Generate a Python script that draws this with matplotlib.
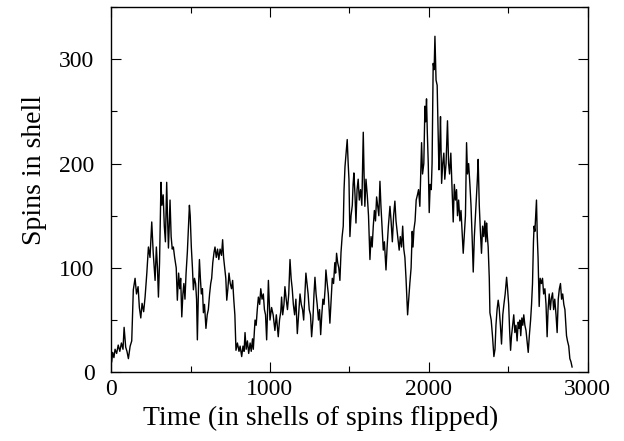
import matplotlib
matplotlib.use("Agg")
import matplotlib.pyplot as plt
from matplotlib.ticker import MultipleLocator

# values (time, spins in shell)
time_a = [4, 10, 18, 25, 35, 45, 55, 65, 75, 82, 92, 100, 109, 120, 130, 140, 151, 160, 170, 178,
          187, 195, 205, 214, 225, 235, 245, 256, 265, 277, 285, 292, 298, 305, 314, 320, 328, 335, 342, 350,
          355, 361, 366, 371, 378, 385, 392, 400, 410, 417, 425, 432, 438, 445, 452, 458, 465, 472, 480, 487,
          493, 498, 505, 512, 518, 525, 532, 538, 543, 550, 556, 562, 568, 575, 581, 588, 597, 605, 612, 620,
          627, 633, 640, 648, 654, 662, 670, 678, 686, 695, 702, 708, 715, 722, 728, 735, 742, 750, 758, 765,
          772, 779, 786, 795, 805, 812, 822, 830, 837, 843, 850, 858, 866, 875, 882, 890, 895, 900, 906, 913,
          920, 927, 935, 942, 950, 958, 965, 972, 979, 985, 990]
spins_a = [10, 19, 14, 22, 18, 26, 20, 28, 22, 43, 24, 20, 13, 25, 30, 79, 90, 75, 82, 62,
           52, 66, 58, 72, 95, 120, 110, 144, 115, 88, 120, 100, 72, 105, 182, 160, 170, 140, 125, 182,
           150, 119, 140, 165, 130, 118, 120, 110, 100, 69, 95, 80, 90, 53, 75, 85, 70, 95, 115, 140,
           160, 150, 120, 100, 79, 90, 85, 70, 31, 80, 108, 90, 75, 80, 57, 65, 42, 55, 60, 75,
           85, 90, 105, 115, 120, 110, 118, 108, 118, 112, 127, 110, 100, 90, 69, 80, 95, 85, 80, 88,
           70, 55, 21, 28, 20, 25, 15, 25, 20, 38, 22, 30, 18, 28, 20, 32, 22, 35, 50, 45,
           60, 72, 65, 80, 70, 75, 60, 55, 31, 60, 88]

time_b = [1000, 1010, 1020, 1031, 1040, 1052, 1060, 1068, 1073, 1080, 1088, 1094, 1102, 1110, 1118, 1126,
          1133, 1140, 1147, 1155, 1163, 1172, 1180, 1189, 1197, 1205, 1212, 1218, 1226, 1233, 1240, 1247,
          1255, 1262, 1270, 1277, 1283, 1290, 1297, 1305, 1312, 1319, 1326, 1333, 1340, 1347, 1352, 1360,
          1367, 1377, 1385, 1392, 1400, 1408, 1413, 1419, 1426, 1433, 1440, 1447, 1454, 1461, 1466, 1472,
          1479, 1486, 1492, 1497, 1503, 1510, 1518, 1523, 1528, 1535, 1541, 1548, 1555, 1562, 1570, 1578,
          1587, 1592, 1597, 1604, 1612, 1620, 1629, 1636, 1643, 1650, 1657, 1664, 1671, 1677, 1685, 1692,
          1698, 1705, 1713, 1720, 1730, 1737, 1745, 1755, 1762, 1770, 1778, 1786, 1793, 1800, 1807, 1813,
          1820, 1828, 1835, 1842, 1849, 1856, 1866, 1873, 1880, 1888, 1895, 1900, 1906, 1913, 1920, 1928,
          1935, 1943, 1950, 1954, 1960, 1968, 1975, 1980, 1985]
spins_b = [50, 62, 55, 40, 55, 34, 50, 58, 72, 55, 65, 82, 70, 60, 75, 108,
           90, 80, 65, 55, 70, 37, 55, 75, 65, 60, 50, 70, 95, 85, 75, 60,
           55, 34, 50, 75, 91, 75, 65, 50, 60, 36, 55, 70, 65, 80, 98, 85,
           75, 47, 70, 90, 85, 105, 95, 114, 105, 100, 88, 115, 130, 140, 175, 197,
           210, 223, 200, 185, 130, 150, 160, 180, 191, 170, 143, 175, 185, 165, 175, 160,
           230, 190, 159, 185, 170, 150, 108, 130, 120, 140, 155, 145, 168, 160, 150, 183,
           160, 140, 117, 125, 98, 120, 140, 159, 145, 125, 150, 164, 145, 135, 125, 117,
           130, 120, 140, 118, 110, 90, 55, 70, 85, 100, 135, 120, 137, 145, 165, 170,
           175, 159, 200, 220, 190, 200, 255, 240, 262]

time_c = [1990, 1996, 2002, 2008, 2015, 2020, 2027, 2033, 2038, 2045, 2052, 2058, 2063, 2068, 2073, 2080,
          2087, 2094, 2100, 2108, 2117, 2124, 2130, 2138, 2145, 2153, 2160, 2167, 2174, 2180, 2187, 2195,
          2202, 2209, 2216, 2222, 2230, 2237, 2243, 2250, 2258, 2265, 2272, 2279, 2286, 2293, 2300, 2305,
          2310, 2317, 2324, 2331, 2338, 2345, 2352, 2358, 2363, 2368, 2373, 2380, 2384, 2392, 2400, 2409,
          2416, 2422, 2429, 2436, 2442, 2450, 2457, 2465, 2472, 2480, 2489, 2495, 2502, 2508, 2514, 2520,
          2527, 2534, 2541, 2548, 2555, 2562, 2568, 2572, 2578, 2585, 2591, 2597, 2604, 2611, 2618, 2625,
          2632, 2640, 2646, 2652, 2658, 2662, 2667, 2672, 2677, 2682, 2687, 2694, 2700, 2708, 2715, 2722,
          2730, 2737, 2744, 2750, 2757, 2764, 2770, 2778, 2785, 2792, 2800, 2807, 2814, 2821, 2828, 2835,
          2842, 2849, 2856, 2862, 2866, 2872, 2880, 2887, 2894, 2901]
spins_c = [230, 200, 153, 180, 175, 200, 296, 290, 322, 280, 275, 230, 194, 215, 245, 181,
           200, 210, 185, 200, 241, 200, 190, 210, 180, 144, 180, 165, 175, 150, 165, 145,
           155, 135, 114, 130, 150, 220, 190, 200, 180, 160, 130, 96, 130, 150, 170, 185,
           204, 160, 135, 114, 140, 130, 145, 125, 143, 130, 120, 90, 57, 50, 35, 15,
           22, 45, 60, 69, 62, 45, 27, 55, 65, 75, 91, 80, 65, 40, 21, 35,
           45, 55, 38, 45, 30, 48, 42, 50, 35, 52, 45, 55, 45, 40, 30, 19,
           35, 50, 65, 85, 125, 140, 135, 150, 165, 130, 110, 63, 90, 85, 90, 75,
           80, 65, 34, 60, 75, 60, 70, 76, 60, 70, 55, 38, 70, 80, 85, 70,
           75, 65, 60, 45, 35, 30, 25, 13, 10, 5]

time_vals = time_a + time_b + time_c
spins_vals = spins_a + spins_b + spins_c

plt.rcParams['font.family'] = ['Liberation Serif', 'DejaVu Serif']

fig = plt.figure(figsize=(6.24, 4.41), dpi=100)
ax = fig.add_axes([0.178, 0.156, 0.764, 0.828])

ax.plot(time_vals, spins_vals, color='black', linewidth=1.0)

ax.set_xlim(0, 3000)
ax.set_ylim(0, 350)
ax.xaxis.set_major_locator(MultipleLocator(1000))
ax.xaxis.set_minor_locator(MultipleLocator(500))
ax.yaxis.set_major_locator(MultipleLocator(100))
ax.yaxis.set_minor_locator(MultipleLocator(50))
ax.tick_params(which='both', direction='in', top=True, right=True, labelsize=17, width=0.8)
ax.tick_params(which='major', length=7)
ax.tick_params(axis='x', which='major', pad=5)
ax.tick_params(axis='y', which='major', pad=12)
ax.tick_params(which='minor', length=4)
for sp in ax.spines.values():
    sp.set_linewidth(1.0)

# labels sit off-centre in the reference, so place them by hand
ax.set_xlabel('Time (in shells of spins flipped)', fontsize=20)
ax.xaxis.set_label_coords(0.44, -0.092, transform=ax.transAxes)
ax.xaxis.label.set_va('top')
ax.set_ylabel('Spins in shell', fontsize=20)
ax.yaxis.set_label_coords(-0.16, 0.555, transform=ax.transAxes)
ax.yaxis.label.set_va('center')

fig.savefig('out.png', dpi=100)
